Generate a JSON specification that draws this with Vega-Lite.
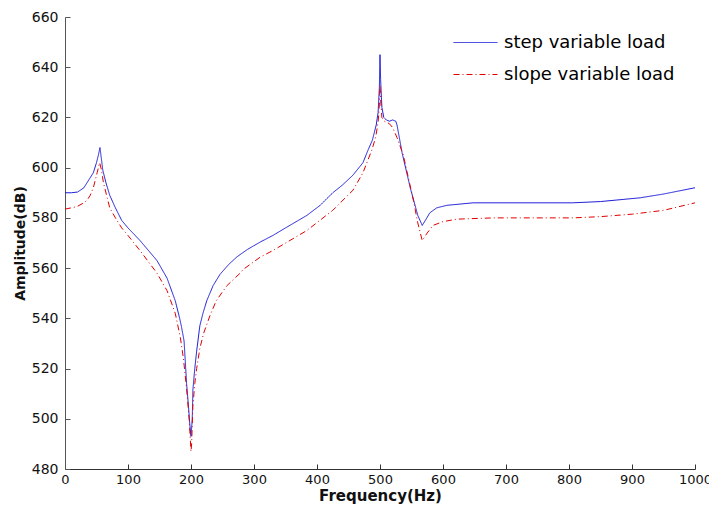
{
  "$schema": "https://vega.github.io/schema/vega-lite/v6.json",
  "autosize": "none",
  "width": 630,
  "height": 452,
  "padding": {"left": 65, "top": 17, "right": 14, "bottom": 43},
  "background": "white",
  "config": {
    "view": {"stroke": null},
    "font": "DejaVu Sans"
  },
  "datasets": {
    "step": [
      [0,590],[10,590],[20,590.3],[30,592],[35,594],[40,596],[45,598],[50,602],[53,605],[55.5,608],[57,605],[60,599],[65,594],[71,589],[80,584],[90,579],[100,576],[119,571],[146,563],[162,556],[175,547],[182,540],[185,536.5],[189,531],[193,514],[196,505],[198,498],[200,493],[202,500],[203,511.5],[206,520],[209,527],[211,531],[214,537],[219,542],[225,547],[235,553],[246,557.5],[260,561.5],[273,564.5],[290,567.5],[310,570.4],[330,573],[350,576],[384,581],[405,585],[425,590],[440,593],[457,597],[473,602],[481,607],[488,611],[494,617],[497,622],[499,632],[500,645],[501,635],[503,624],[506,620],[510,619],[515,618.5],[520,619],[525,618.5],[527,617],[535,606],[548,592],[560,581],[567,577],[572,579],[579,582],[590,584],[606,585],[648,586],[700,586],[806,586],[850,586.5],[913,588],[950,589.5],[1000,592]
    ],
    "slope": [
      [0,583.5],[10,584],[19,584.5],[30,586],[35,587],[40,589],[45,592],[51,598],[55,602],[58,599],[61,594],[66,589],[71,584],[80,580],[90,576],[100,573],[119,567],[146,558],[162,551],[175,542],[183,532.5],[188,524],[193,512],[197,500],[200,487],[201,490],[203,505],[206,514],[209,520],[214,528],[220,534],[230,541],[240,547],[257,553],[278,558],[283,559.5],[310,564.4],[330,567],[384,575],[425,583],[457,591],[473,598],[487,607],[493,612],[497,618],[499,625],[500,633],[501,627],[503,620],[507,618.5],[515,617.5],[520,616],[527,612],[537,605],[553,587],[560,578],[567,571],[575,574],[584,577],[600,578.5],[622,579.5],[680,580],[806,580],[850,580.5],[901,581.5],[950,583],[1000,586]
    ]
  },
  "data": {"values": []},
  "layer": [
    {
      "data": {"name": "step"},
      "transform": [
        {"calculate": "datum[0]", "as": "f"},
        {"calculate": "datum[1]", "as": "a"},
        {"calculate": "'step variable load'", "as": "series"}
      ],
      "mark": {"type": "line", "strokeWidth": 1, "interpolate": "linear"},
      "encoding": {
        "x": {"field": "f", "type": "quantitative"},
        "y": {"field": "a", "type": "quantitative"},
        "color": {"field": "series", "type": "nominal"},
        "strokeDash": {"field": "series", "type": "nominal"}
      }
    },
    {
      "data": {"name": "slope"},
      "transform": [
        {"calculate": "datum[0]", "as": "f"},
        {"calculate": "datum[1]", "as": "a"},
        {"calculate": "'slope variable load'", "as": "series"}
      ],
      "mark": {"type": "line", "strokeWidth": 1, "interpolate": "linear"},
      "encoding": {
        "x": {
          "field": "f", "type": "quantitative",
          "scale": {"domain": [0, 1000], "nice": false, "zero": false},
          "axis": {
            "title": "Frequency(Hz)", "values": [0,100,200,300,400,500,600,700,800,900,1000],
            "format": "d",
            "grid": false, "tickSize": -5, "labelPadding": 9, "labelFontSize": 13,
            "labelColor": "#111", "domainColor": "#333", "tickColor": "#333",
            "titleFontSize": 15, "titleFontWeight": "bold", "titleColor": "#111", "titlePadding": 2,
            "labelFlush": false, "labelOverlap": false
          }
        },
        "y": {
          "field": "a", "type": "quantitative",
          "scale": {"domain": [480, 660], "nice": false, "zero": false},
          "axis": {
            "title": "Amplitude(dB)", "values": [480,500,520,540,560,580,600,620,640,660],
            "grid": false, "tickSize": -5, "labelPadding": 12, "labelFontSize": 14,
            "labelColor": "#111", "domainColor": "#555", "tickColor": "#555",
            "titleFontSize": 14, "titleFontWeight": "bold", "titleColor": "#111", "titlePadding": 4,
            "labelFlush": false, "labelOverlap": false
          }
        },
        "color": {
          "field": "series", "type": "nominal",
          "scale": {"domain": ["step variable load", "slope variable load"], "range": ["#1a1ad8", "#e00000"]},
          "legend": {
            "orient": "none", "legendX": 388, "legendY": 3, "title": null,
            "symbolType": "stroke", "symbolSize": 1936, "symbolStrokeWidth": 1,
            "labelFontSize": 18, "labelFont": "DejaVu Sans", "labelColor": "#000",
            "labelLimit": 400, "labelOffset": 6, "rowPadding": -19
          }
        },
        "strokeDash": {
          "field": "series", "type": "nominal",
          "scale": {"domain": ["step variable load", "slope variable load"], "range": [[1, 0], [6, 3, 1, 3]]},
          "legend": null
        }
      }
    }
  ]
}
